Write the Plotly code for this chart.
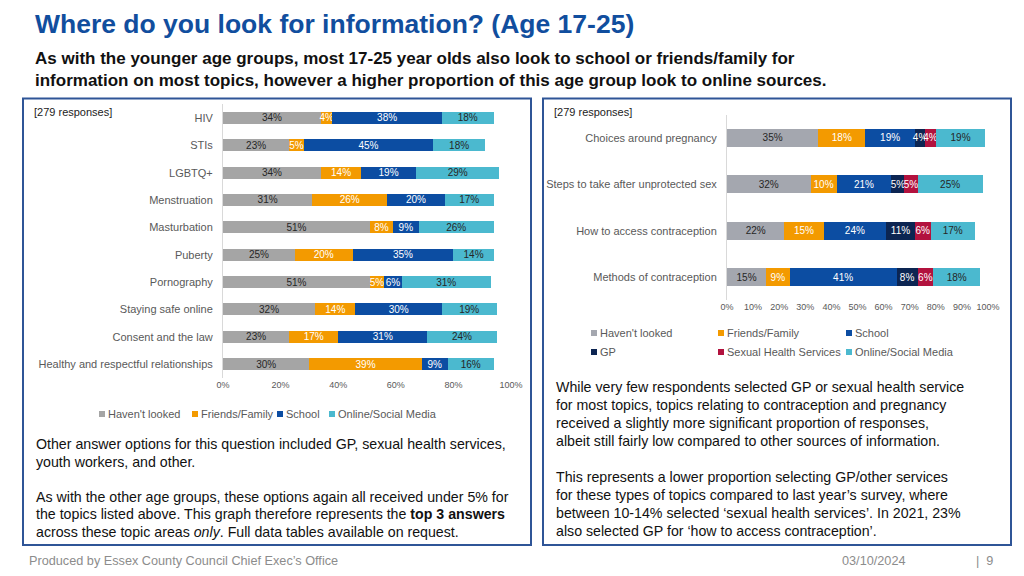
import plotly.graph_objects as go

# ---------------- data ----------------
left_topics = ["HIV", "STIs", "LGBTQ+", "Menstruation", "Masturbation", "Puberty",
               "Pornography", "Staying safe online", "Consent and the law",
               "Healthy and respectful relationships"]
left_havent = [34, 23, 34, 31, 51, 25, 51, 32, 23, 30]
left_friends = [4, 5, 14, 26, 8, 20, 5, 14, 17, 39]
left_school = [38, 45, 19, 20, 9, 35, 6, 30, 31, 9]
left_online = [18, 18, 29, 17, 26, 14, 31, 19, 24, 16]
left_ticks = [0, 20, 40, 60, 80, 100]

right_topics = ["Choices around pregnancy", "Steps to take after unprotected sex",
                "How to access contraception", "Methods of contraception"]
right_havent = [35, 32, 22, 15]
right_friends = [18, 10, 15, 9]
right_school = [19, 21, 24, 41]
right_gp = [4, 5, 11, 8]
right_shs = [4, 5, 6, 6]
right_online = [19, 25, 17, 18]
right_ticks = [0, 10, 20, 30, 40, 50, 60, 70, 80, 90, 100]

left_note = [
    "Other answer options for this question included GP, sexual health services,",
    "youth workers, and other.",
    "",
    "As with the other age groups, these options again all received under 5% for",
    "the topics listed above. This graph therefore represents the <b>top 3 answers</b>",
    "across these topic areas <i>only</i>. Full data tables available on request.",
]
right_note = [
    "While very few respondents selected GP or sexual health service",
    "for most topics, topics relating to contraception and pregnancy",
    "received a slightly more significant proportion of responses,",
    "albeit still fairly low compared to other sources of information.",
    "",
    "This represents a lower proportion selecting GP/other services",
    "for these types of topics compared to last year\u2019s survey, where",
    "between 10-14% selected \u2018sexual health services\u2019. In 2021, 23%",
    "also selected GP for \u2018how to access contraception\u2019.",
]

W, H = 1024, 576
OFF = 8  # page body margin in the browser
def px(x): return (x - OFF) / W
def py(y): return 1 - (y - OFF) / H

C_GREY = "#A5A5A5"
C_GREY2 = "#A4A7AF"
C_ORANGE = "#F39A00"
C_SCHOOL = "#0C4DA2"
C_ONLINE = "#4BB9CF"
C_GP = "#0C2552"
C_SHS = "#B2123E"
DARK = "#262626"
LBL = "#595959"
FONT = "Liberation Sans, Arial, sans-serif"

fig = go.Figure()

def add_bars(vals, cats, name, color, tcolor, xa, ya, width):
    fig.add_trace(go.Bar(
        x=vals, y=cats, orientation="h", name=name,
        marker=dict(color=color, line=dict(width=0)),
        text=[f"{v}%" for v in vals], textposition="inside",
        insidetextanchor="middle", textangle=0,
        textfont=dict(size=10, color=tcolor, family=FONT),
        width=width, xaxis=xa, yaxis=ya, showlegend=False,
        hoverinfo="skip", cliponaxis=False))

lw = 0.44
add_bars(left_havent, left_topics, "Haven't looked", C_GREY, DARK, "x", "y", lw)
add_bars(left_friends, left_topics, "Friends/Family", C_ORANGE, "white", "x", "y", lw)
add_bars(left_school, left_topics, "School", C_SCHOOL, "white", "x", "y", lw)
add_bars(left_online, left_topics, "Online/Social Media", C_ONLINE, DARK, "x", "y", lw)

rw = 0.39
add_bars(right_havent, right_topics, "Haven't looked", C_GREY2, DARK, "x2", "y2", rw)
add_bars(right_friends, right_topics, "Friends/Family", C_ORANGE, "white", "x2", "y2", rw)
add_bars(right_school, right_topics, "School", C_SCHOOL, "white", "x2", "y2", rw)
add_bars(right_gp, right_topics, "GP", C_GP, "white", "x2", "y2", rw)
add_bars(right_shs, right_topics, "Sexual Health Services", C_SHS, "white", "x2", "y2", rw)
add_bars(right_online, right_topics, "Online/Social Media", C_ONLINE, DARK, "x2", "y2", rw)

axis_common = dict(showgrid=False, zeroline=False, fixedrange=True, automargin=False)

fig.update_layout(
    width=W, height=H, autosize=False,
    margin=dict(l=0, r=0, t=0, b=0, pad=0, autoexpand=False),
    paper_bgcolor="white", plot_bgcolor="white",
    barmode="stack",
    uniformtext=dict(minsize=10, mode="show"),
    font=dict(family=FONT, color=LBL),
    xaxis=dict(domain=[px(223), px(511)], range=[0, 100], anchor="y",
               tickvals=left_ticks, ticktext=[f"{t}%" for t in left_ticks],
               tickfont=dict(size=9, color=LBL), ticks="", showline=False, **axis_common),
    yaxis=dict(domain=[py(377.7), py(104.3)], type="category",
               categoryorder="array", categoryarray=left_topics, autorange="reversed",
               anchor="x", showline=True, linecolor="#D9D9D9", linewidth=1,
               ticks="outside", ticklen=7, tickcolor="rgba(0,0,0,0)",
               tickfont=dict(size=11, color=LBL), **axis_common),
    xaxis2=dict(domain=[px(727), px(988)], range=[0, 100], anchor="y2",
                tickvals=right_ticks, ticktext=[f"{t}%" for t in right_ticks],
                tickfont=dict(size=9, color=LBL), ticks="", showline=False, **axis_common),
    yaxis2=dict(domain=[py(300.2), py(114.8)], type="category",
                categoryorder="array", categoryarray=right_topics, autorange="reversed",
                anchor="x2", showline=True, linecolor="#D9D9D9", linewidth=1,
                ticks="outside", ticklen=7, tickcolor="rgba(0,0,0,0)",
                tickfont=dict(size=11, color=LBL), **axis_common),
)

shapes = []
# panel boxes
shapes.append(dict(type="rect", xref="paper", yref="paper", x0=px(23), x1=px(531),
                   y0=py(545), y1=py(98.5), line=dict(color="#2F5597", width=2),
                   fillcolor="rgba(0,0,0,0)", layer="below"))
shapes.append(dict(type="rect", xref="paper", yref="paper", x0=px(543), x1=px(1011),
                   y0=py(545), y1=py(98.5), line=dict(color="#2F5597", width=2),
                   fillcolor="rgba(0,0,0,0)", layer="below"))

annotations = []
def ann(x, y, text, size, color, family=FONT, xanchor="left", yanchor="middle", align="left"):
    annotations.append(dict(x=px(x), y=py(y), xref="paper", yref="paper", text=text,
                            showarrow=False, xanchor=xanchor, yanchor=yanchor, align=align,
                            font=dict(size=size, color=color, family=family)))

def legend_item(x, y, color, label):
    shapes.append(dict(type="rect", xref="paper", yref="paper",
                       x0=px(x), x1=px(x + 6), y0=py(y + 3), y1=py(y - 3),
                       fillcolor=color, line=dict(width=0)))
    ann(x + 7, y, label, 11, LBL)

# left legend
legend_item(99, 414, C_GREY, "Haven't looked")
legend_item(192, 414, C_ORANGE, "Friends/Family")
legend_item(277, 414, C_SCHOOL, "School")
legend_item(329, 414, C_ONLINE, "Online/Social Media")
# right legend
legend_item(591, 333, C_GREY2, "Haven't looked")
legend_item(718, 333, C_ORANGE, "Friends/Family")
legend_item(846, 333, C_SCHOOL, "School")
legend_item(591, 352, C_GP, "GP")
legend_item(718, 352, C_SHS, "Sexual Health Services")
legend_item(846, 352, C_ONLINE, "Online/Social Media")

# title + subtitle
ann(33, 24, "<b>Where do you look for information? (Age 17-25)</b>", 26.5, "#114E9E")
ann(33, 69, "<b>As with the younger age groups, most 17-25 year olds also look to school or friends/family for"
            "<br>information on most topics, however a higher proportion of this age group look to online sources.</b>",
    17, "#111111")

ann(32, 112, "[279 responses]", 11, "#222222")
ann(552, 112, "[279 responses]", 11, "#222222")

# explanatory notes, one line at a time (17.6 px line pitch)
for i, line in enumerate(left_note):
    if line:
        ann(34, 444 + 17.6 * i, line, 14.2, "#111111")
for i, line in enumerate(right_note):
    if line:
        ann(554, 387 + 18 * i, line, 14.2, "#111111")

# footer
ann(27, 561, "Produced by Essex County Council Chief Exec\u2019s Office", 12.7, "#8C8C8C")
ann(840, 561, "03/10/2024", 12.7, "#8C8C8C")
ann(974, 561, "|  9", 12.7, "#8C8C8C")

fig.update_layout(shapes=shapes, annotations=annotations)
fig.write_html("out.html")
